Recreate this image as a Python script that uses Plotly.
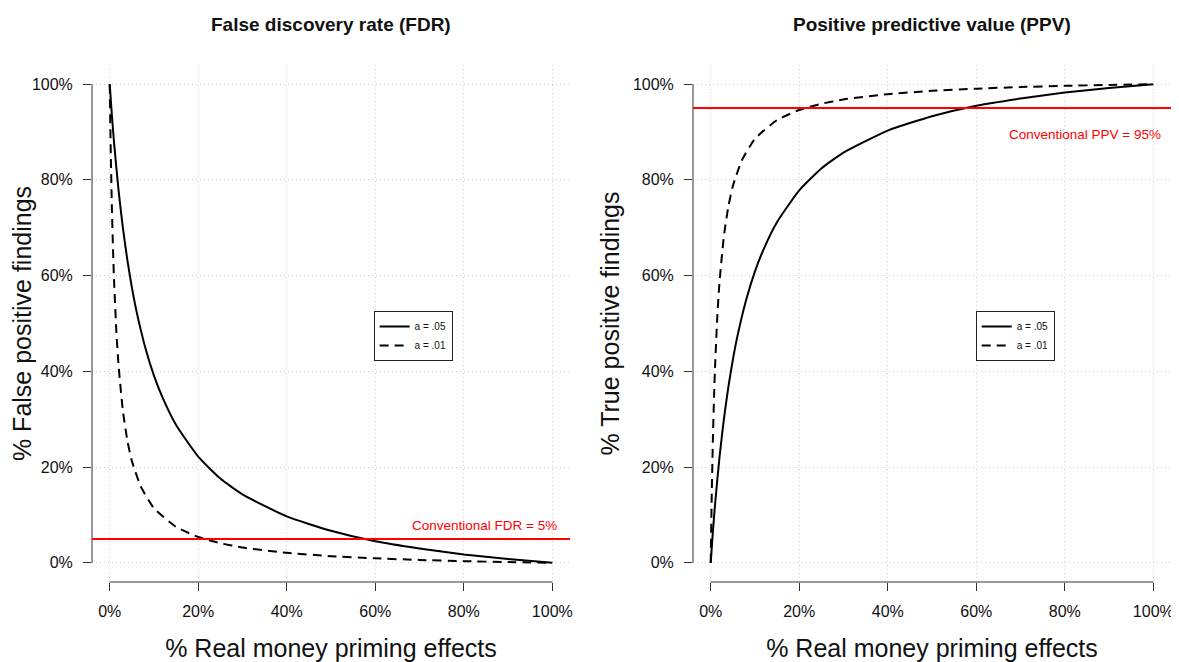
import plotly.graph_objects as go
from plotly.subplots import make_subplots

# % real effects (x) and % false positive findings (FDR)
x_solid = [0, 0.5, 1, 2, 3, 4, 5, 6, 8, 10, 12, 15, 20, 25, 30, 40, 50, 60, 70, 80, 90, 100]
fdr_a05 = [100, 93.4, 87.6, 77.8, 69.8, 63.2, 57.6, 52.8, 45.1, 39.1, 34.4, 28.8, 22.2, 17.6, 14.3,
           9.7, 6.7, 4.5, 3.0, 1.75, 0.79, 0]
x_dash = [0, 0.25, 0.5, 0.75, 1, 1.5, 2, 3, 4, 5, 7, 10, 15, 20, 25, 30, 40, 50, 60, 70, 80, 90, 100]
fdr_a01 = [100, 85.1, 74.0, 65.4, 58.6, 48.4, 41.2, 31.6, 25.5, 21.3, 16.0, 11.4, 7.5, 5.4, 4.1, 3.2,
           2.1, 1.4, 0.94, 0.61, 0.36, 0.16, 0]
# % true positive findings (PPV)
ppv_a05 = [100 - v for v in fdr_a05]
ppv_a01 = [100 - v for v in fdr_a01]

tick_vals = [0, 20, 40, 60, 80, 100]
tick_text = ["0%", "20%", "40%", "60%", "80%", "100%"]
fdr_conv = 5
ppv_conv = 95

FONT = "Liberation Sans, Arial, Helvetica, sans-serif"
fig = make_subplots(rows=1, cols=2, horizontal_spacing=0.114)

dash_pat = "9px,6px"
fig.add_trace(go.Scatter(x=x_solid, y=fdr_a05, mode="lines", name="a = .05",
                         line=dict(color="black", width=2, shape="spline", smoothing=0.5),
                         legend="legend"), 1, 1)
fig.add_trace(go.Scatter(x=x_dash, y=fdr_a01, mode="lines", name="a = .01",
                         line=dict(color="black", width=2, dash=dash_pat, shape="spline", smoothing=0.5),
                         legend="legend"), 1, 1)
fig.add_trace(go.Scatter(x=x_solid, y=ppv_a05, mode="lines", name="a = .05",
                         line=dict(color="black", width=2, shape="spline", smoothing=0.5),
                         legend="legend2"), 1, 2)
fig.add_trace(go.Scatter(x=x_dash, y=ppv_a01, mode="lines", name="a = .01",
                         line=dict(color="black", width=2, dash=dash_pat, shape="spline", smoothing=0.5),
                         legend="legend2"), 1, 2)

axis_common = dict(range=[-4, 104], tickvals=tick_vals, ticktext=tick_text, ticks="outside",
                   ticklen=8, tickwidth=1, tickcolor="#333", showline=False, zeroline=False,
                   showgrid=True, gridcolor="#cfcfcf", griddash="1px,3px", gridwidth=1,
                   tickfont=dict(family=FONT, size=16, color="#111"), automargin=False,
                   ticklabeloverflow="allow")
TITLE_FONT = dict(family=FONT, size=25, color="#111")
for c in (1, 2):
    fig.update_xaxes(**axis_common, col=c, row=1, ticklabelstandoff=7,
                     title=dict(text="% Real money priming effects", font=TITLE_FONT, standoff=20))
fig.update_yaxes(**axis_common, col=1, row=1, ticklabelstandoff=7,
                 title=dict(text="% False positive findings", font=TITLE_FONT, standoff=6))
fig.update_yaxes(**axis_common, col=2, row=1, ticklabelstandoff=7,
                 title=dict(text="% True positive findings", font=TITLE_FONT, standoff=6))

# R-style detached axis lines spanning first to last tick, plus red reference lines
for xr, yr, yconv in (("x", "y", fdr_conv), ("x2", "y2", ppv_conv)):
    fig.add_shape(type="line", xref=xr, yref=yr + " domain", x0=0, x1=100, y0=0, y1=0,
                  line=dict(color="#333", width=1))
    fig.add_shape(type="line", xref=xr + " domain", yref=yr, x0=0, x1=0, y0=0, y1=100,
                  line=dict(color="#333", width=1))
    fig.add_shape(type="line", xref=xr + " domain", yref=yr, x0=0, x1=1, y0=yconv, y1=yconv,
                  line=dict(color="#ff0000", width=2), layer="above")

RED_FONT = dict(family=FONT, size=13.5, color="#ff0000")
fig.add_annotation(xref="x", yref="y", x=101.5, y=7.9, text="Conventional FDR = 5%", showarrow=False,
                   xanchor="right", yanchor="middle", font=RED_FONT)
fig.add_annotation(xref="x2", yref="y2", x=102.3, y=89.4, text="Conventional PPV = 95%", showarrow=False,
                   xanchor="right", yanchor="middle", font=RED_FONT)

HEAD_FONT = dict(family=FONT, size=19, color="#111")
fig.add_annotation(xref="x domain", yref="paper", x=0.5, y=1, yshift=41, text="<b>False discovery rate (FDR)</b>",
                   showarrow=False, xanchor="center", yanchor="middle", font=HEAD_FONT)
fig.add_annotation(xref="x2 domain", yref="paper", x=0.5, y=1, yshift=41, text="<b>Positive predictive value (PPV)</b>",
                   showarrow=False, xanchor="center", yanchor="middle", font=HEAD_FONT)

legend_common = dict(bgcolor="white", bordercolor="#222", borderwidth=1, xanchor="left", yanchor="top",
                     font=dict(family=FONT, size=10, color="#111"), itemwidth=30, tracegroupgap=0)
fig.update_layout(
    width=1171, height=654,
    margin=dict(l=84, r=8, t=57, b=80),
    plot_bgcolor="white", paper_bgcolor="white",
    showlegend=True,
    legend=dict(x=0.261, y=0.524, **legend_common),
    legend2=dict(x=0.819, y=0.524, **legend_common),
)

fig.write_html("out.html")
